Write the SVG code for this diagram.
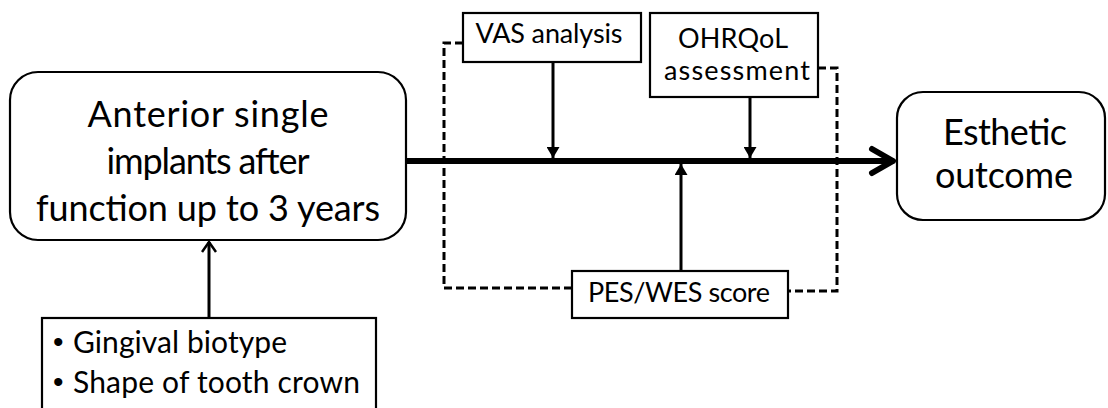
<svg xmlns="http://www.w3.org/2000/svg" width="1108" height="408" viewBox="0 0 1108 408">
<style>
  .box { fill: #fff; stroke: #000; stroke-width: 2.2; }
  .big { font-family: Lato, "Open Sans", "Liberation Sans", sans-serif; font-size: 36px; fill: #000; text-anchor: middle; }
  .mid { font-family: Lato, "Open Sans", "Liberation Sans", sans-serif; font-size: 27px; fill: #000; text-anchor: middle; }
  .lst { font-family: Lato, "Open Sans", "Liberation Sans", sans-serif; font-size: 30px; fill: #000; }
  .bul { font-family: "Liberation Sans", sans-serif; font-size: 30px; fill: #000; }
  .arr { stroke: #000; stroke-width: 3; fill: none; }
  .dash { stroke: #000; stroke-width: 3; fill: none; stroke-dasharray: 8 4; }
  .main { stroke: #000; stroke-width: 6; fill: none; stroke-linecap: round; stroke-linejoin: round; }
</style>
<defs>
  <marker id="tri" viewBox="0 0 10 10" refX="10" refY="5" markerUnits="userSpaceOnUse" markerWidth="11" markerHeight="13" orient="auto" preserveAspectRatio="none">
    <path d="M0,0 L10,5 L0,10 Z" fill="#000"/>
  </marker>
  <marker id="open" viewBox="0 0 12 16" refX="11" refY="8" markerUnits="userSpaceOnUse" markerWidth="12" markerHeight="16" orient="auto">
    <path d="M1,1 L11,8 L1,15" fill="none" stroke="#000" stroke-width="2.5"/>
  </marker>
</defs>

<g id="connectors">
  <path class="dash" d="M463,43 H444 V288 H572"/>
  <path class="dash" d="M818,68 H837 V291 H788"/>
  <line class="main" x1="406" y1="161" x2="892" y2="161"/>
  <polyline class="main" points="872,149 893,161 872,173"/>
  <line class="arr" x1="553" y1="62" x2="553" y2="158" marker-end="url(#tri)"/>
  <line class="arr" x1="750" y1="97" x2="750" y2="158" marker-end="url(#tri)"/>
  <line class="arr" x1="681" y1="271" x2="681" y2="164" marker-end="url(#tri)"/>
  <line class="arr" x1="209" y1="318" x2="209" y2="242" marker-end="url(#open)"/>
</g>

<g id="node-implants">
  <rect class="box" x="10" y="72" width="396" height="168" rx="28" ry="28"/>
  <text class="big" x="208" y="127" textLength="241" lengthAdjust="spacing">Anterior single</text>
  <text class="big" x="208" y="174" textLength="203" lengthAdjust="spacing">implants after</text>
  <text class="big" x="208" y="221" textLength="344" lengthAdjust="spacing">function up to 3 years</text>
</g>

<g id="node-vas">
  <rect class="box" x="463" y="13" width="178" height="49"/>
  <text class="mid" x="549" y="43" textLength="147" lengthAdjust="spacing">VAS analysis</text>
</g>

<g id="node-ohrqol">
  <rect class="box" x="650" y="13" width="168" height="84"/>
  <text class="mid" x="733" y="48" textLength="110" lengthAdjust="spacing">OHRQoL</text>
  <text class="mid" x="737" y="80" textLength="146" lengthAdjust="spacing">assessment</text>
</g>

<g id="node-pes">
  <rect class="box" x="572" y="271" width="216" height="47"/>
  <text class="mid" x="679" y="302" textLength="182" lengthAdjust="spacing">PES/WES score</text>
</g>

<g id="node-outcome">
  <rect class="box" x="897" y="92" width="208" height="128" rx="26" ry="26"/>
  <text class="big" x="1005" y="145" textLength="124" lengthAdjust="spacing">Esthetic</text>
  <text class="big" x="1004" y="188" textLength="138" lengthAdjust="spacing">outcome</text>
</g>

<g id="node-factors">
  <rect class="box" x="42" y="318" width="334" height="110"/>
  <text class="bul" x="53" y="352">•</text>
  <text class="lst" x="73" y="353" textLength="214" lengthAdjust="spacing">Gingival biotype</text>
  <text class="bul" x="53" y="392">•</text>
  <text class="lst" x="73" y="393" textLength="287" lengthAdjust="spacing">Shape of tooth crown</text>
</g>
</svg>
